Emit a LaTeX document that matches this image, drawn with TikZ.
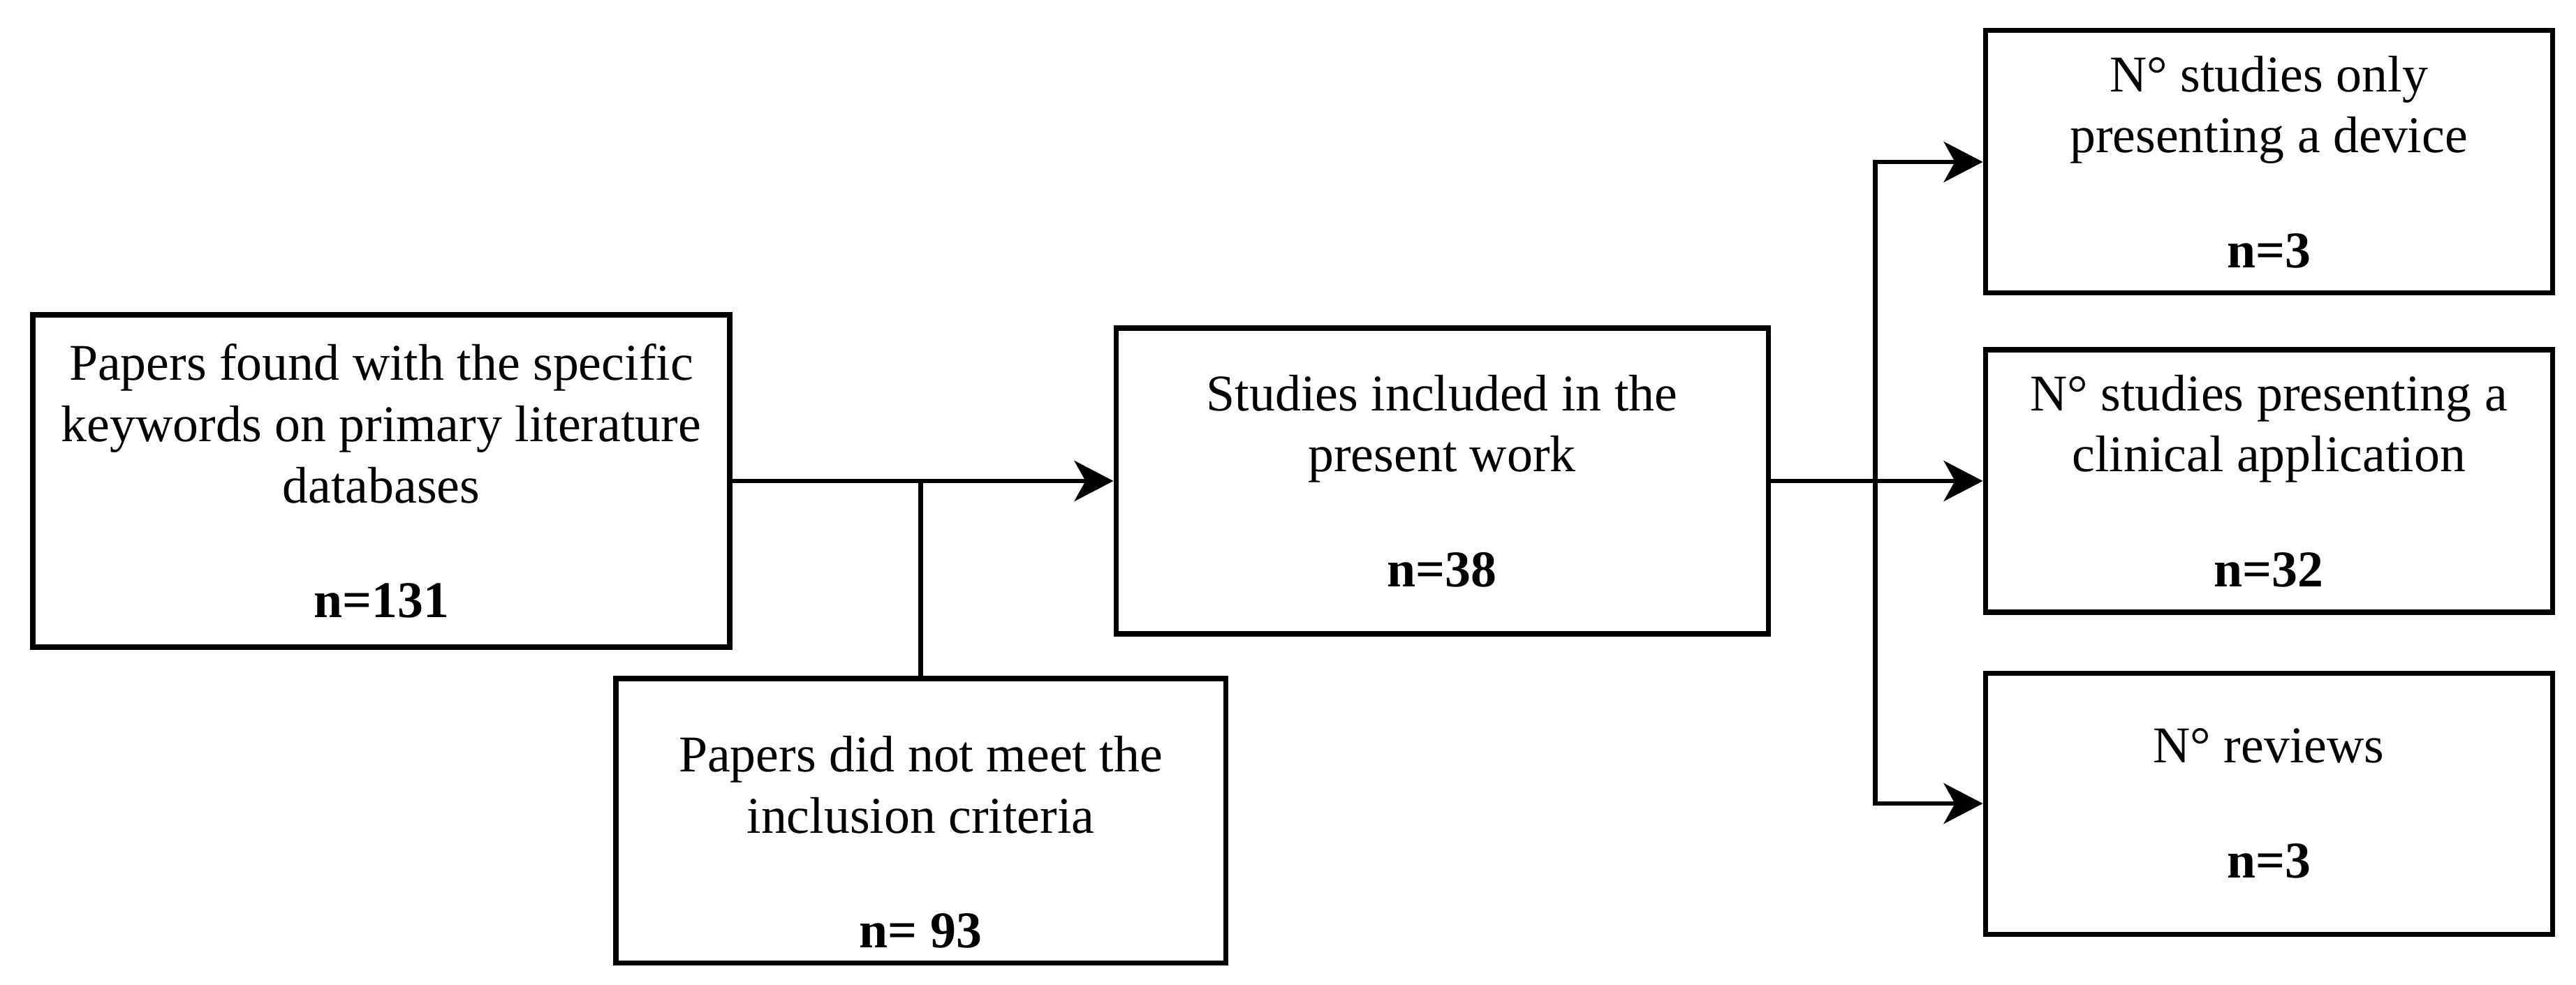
\documentclass[tikz,border=0pt]{standalone}
\usepackage{fontspec}
\setmainfont{Liberation Serif}
\usepackage{tikz}
\usetikzlibrary{arrows.meta,positioning}

\tikzset{
  box/.style={draw,line width=2pt,align=center,inner sep=0pt,
    font=\fontsize{21}{25}\selectfont},
  conn/.style={line width=1.8pt},
  arr/.style={conn,-{Stealth[length=0.56cm,width=0.58cm,inset=0.16cm]}}
}

\begin{document}
\begin{tikzpicture}
      \useasboundingbox (0,0) rectangle (36.89,14.10);

      % left column: search and exclusion
      \node[box,minimum width=9.98cm,minimum height=4.76cm] (found) at (5.46,7.21)
        {Papers found with the specific\\keywords on primary literature\\databases\\[21.8pt]\textbf{n=131}};
      \node[box,minimum width=8.73cm,minimum height=4.07cm] (miss) at (13.185,2.345)
        {\mbox{}\\[7pt]Papers did not meet the\\inclusion criteria\\[21.8pt]\textbf{n= 93}};

      % middle: included studies
      \node[box,minimum width=9.34cm,minimum height=4.38cm,right=5.46cm of found] (incl)
        {Studies included in the\\present work\\[21.8pt]\textbf{n=38}};

      % right column: breakdown
      \node[box,minimum width=8.12cm,minimum height=3.76cm,right=3.04cm of incl] (clin)
        {N° studies presenting a\\clinical application\\[21.8pt]\textbf{n=32}};
      \node[box,minimum width=8.12cm,minimum height=3.76cm,above=0.74cm of clin] (only)
        {N° studies only\\presenting a device\\[21.8pt]\textbf{n=3}};
      \node[box,minimum width=8.12cm,minimum height=3.74cm,below=0.8cm of clin] (rev)
        {N° reviews\\[21.8pt]\textbf{n=3}};

      \coordinate[right=1.5cm of incl.east] (split);

      \draw[arr] (found.east) -- (incl.west);
      \draw[conn] (miss.north) -- (miss.north |- found.east);

      \draw[arr] (incl.east) -- (split) |- (only.west);
      \draw[arr] (split) -- (clin.west);
      \draw[arr] (split) |- (rev.west);

    \end{tikzpicture}
\end{document}
